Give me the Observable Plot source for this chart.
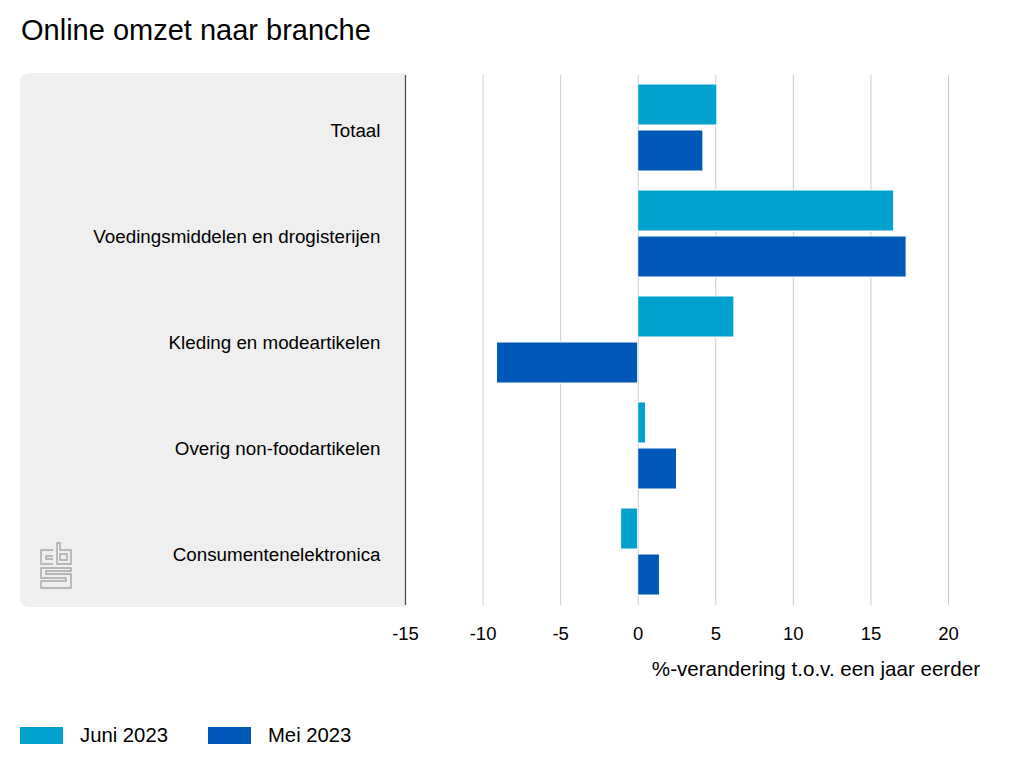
<!DOCTYPE html>
<html>
<head>
<meta charset="utf-8">
<script src="https://cdn.jsdelivr.net/npm/d3@7"></script>
<script src="https://cdn.jsdelivr.net/npm/@observablehq/plot@0.6"></script>
<style>
  body { margin: 0; background: #fff; font-family: "Liberation Sans", Arial, Helvetica, sans-serif; color: #000; }
  #wrap { position: relative; width: 1024px; height: 768px; overflow: hidden; }
  #title { position: absolute; left: 21px; top: 16px; font-size: 29px; line-height: 1; white-space: nowrap; }
  #chart { position: absolute; left: 0; top: 60px; }
  #xlabel { position: absolute; right: 44px; top: 659px; font-size: 20.6px; line-height: 1; white-space: nowrap; }
  #legend { position: absolute; left: 20px; top: 725px; display: flex; align-items: center; font-size: 20.3px; line-height: 1; }
  .item { display: flex; align-items: center; margin-right: 40px; }
  .sw { width: 43px; height: 17px; margin-right: 17px; }
</style>
</head>
<body>
<div id="wrap">
  <div id="title">Online omzet naar branche</div>
  <div id="chart"></div>
  <div id="xlabel">%-verandering t.o.v. een jaar eerder</div>
  <div id="legend"></div>
</div>
<script>
const categories = ["Totaal", "Voedingsmiddelen en drogisterijen", "Kleding en modeartikelen", "Overig non-foodartikelen", "Consumentenelektronica"];
const seriesNames = ["Juni 2023", "Mei 2023"];
const juni2023 = [5.1, 16.5, 6.2, 0.5, -1.1];
const mei2023 = [4.2, 17.3, -9.1, 2.5, 1.4];
const xTicks = [-15, -10, -5, 0, 5, 10, 15, 20];
const seriesColors = ["#00a1cd", "#0058b8"];

const data = [];
categories.forEach((c, i) => {
  data.push({category: c, series: seriesNames[0], value: juni2023[i]});
  data.push({category: c, series: seriesNames[1], value: mei2023[i]});
});

const font = '"Liberation Sans", Arial, Helvetica, sans-serif';

const plot = Plot.plot({
  width: 1024,
  height: 600,
  marginTop: 13,
  marginBottom: 53,
  marginLeft: 405,
  marginRight: 76,
  style: {fontFamily: font, fontSize: "18px", color: "#000", background: "transparent", overflow: "visible"},
  x: {domain: [-15, 20], label: null},
  y: {domain: seriesNames, paddingInner: 0.1, paddingOuter: 0.2, axis: null, label: null},
  fy: {domain: categories, padding: 0, label: null},
  color: {domain: seriesNames, range: seriesColors},
  marks: [
    Plot.ruleX(xTicks.filter(t => t !== -15), {stroke: "#cccccc", strokeWidth: 1}),
    Plot.barX(data, {fy: "category", y: "series", x: "value", fill: "series", stroke: "white", strokeWidth: 1}),
    Plot.ruleX([-15], {stroke: "#444", strokeWidth: 1.2}),
    Plot.axisX({anchor: "bottom", ticks: xTicks, tickSize: 0, tickPadding: 21, fontSize: 18.5, tickFormat: d => String(d), label: null}),
    Plot.axisFy({anchor: "left", tickSize: 0, tickPadding: 25, fontSize: 18.8, dy: 2, label: null})
  ]
});

document.getElementById("chart").appendChild(plot);

// grey panel behind the category labels, positioned from the plot's scales
const svg = d3.select(plot);
const xs = plot.scale("x");
const fys = plot.scale("fy");
const x0 = 20;
const x1 = xs.apply(-15);
const y0 = Math.min(...fys.range);
const y1 = Math.max(...fys.range);
const r = 10;
const panelPath = `M${x1},${y0} L${x0 + r},${y0} Q${x0},${y0} ${x0},${y0 + r} L${x0},${y1 - r} Q${x0},${y1} ${x0 + r},${y1} L${x1},${y1} Z`;
svg.insert("path", ":first-child").attr("d", panelPath).attr("fill", "#efefef");

// CBS logo (outline) in the panel's lower-left corner
const logo = svg.append("g")
  .attr("transform", `translate(${x0 + 20},${y1 - 64})`)
  .attr("fill", "none").attr("stroke", "#a5a5a5").attr("stroke-width", 1.4);
logo.append("path").attr("d", "M13,7 H1 V21 H13 M13,13 H6 V16 H13");
logo.append("path").attr("d", "M17,0 V21 H31 V7 H20 V0 Z M20,11 H27 V17 H20 Z");
logo.append("path").attr("d", "M31,25 H1 V35 H26 V38 H1 V45 H31 V31 H6 V28 H31 Z");

// legend
const legend = d3.select("#legend");
seriesNames.forEach((s, i) => {
  const it = legend.append("div").attr("class", "item");
  it.append("div").attr("class", "sw").style("background", seriesColors[i]);
  it.append("span").text(s);
});
</script>
</body>
</html>
